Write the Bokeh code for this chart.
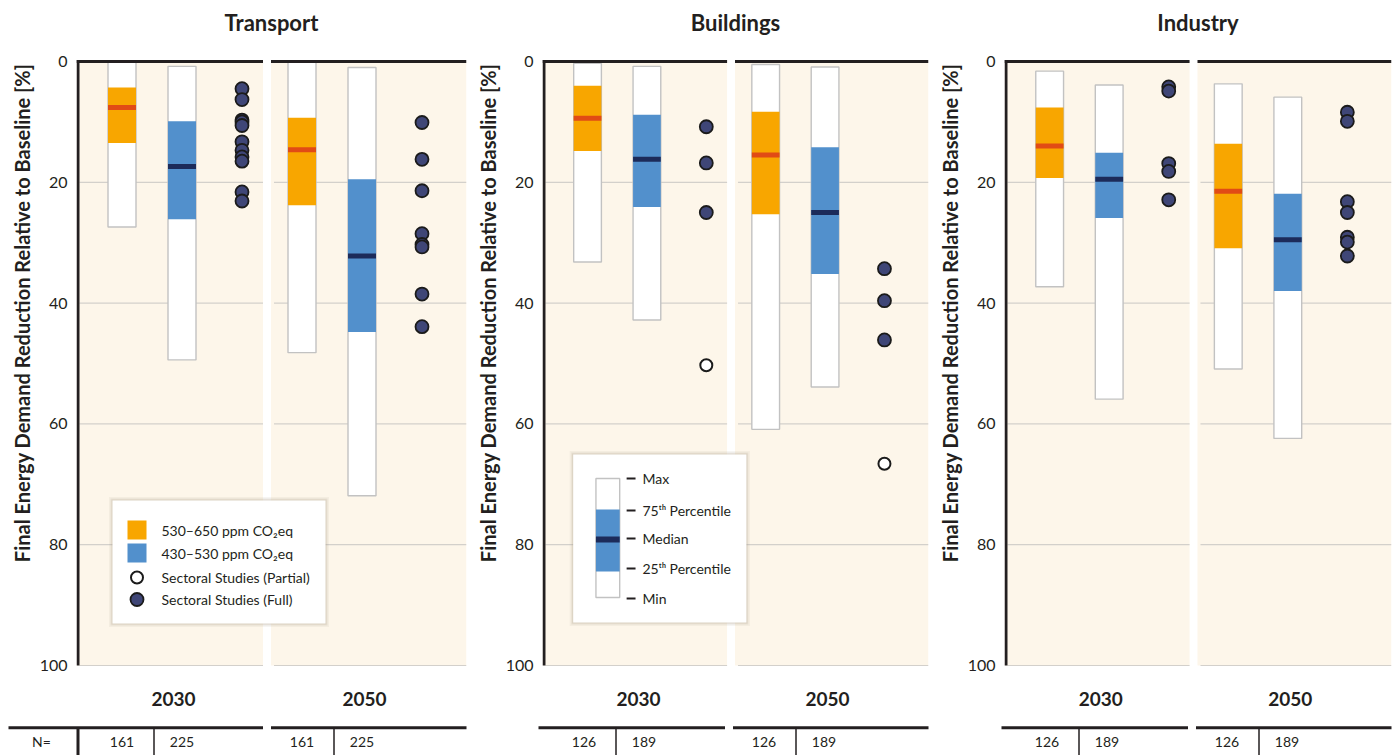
from bokeh.plotting import figure
from bokeh.models import Range1d, FixedTicker, Title
from bokeh.layouts import row, column
from bokeh.embed import file_html
from bokeh.resources import INLINE
from bokeh.core.properties import value

# ---------------- data ----------------
sectors = ["Transport", "Buildings", "Industry"]
years = ["2030", "2050"]
scenario_labels = ["530–650 ppm CO₂eq", "430–530 ppm CO₂eq"]
study_labels = ["Sectoral Studies (Partial)", "Sectoral Studies (Full)"]
key_labels = ["Max", "75ᵗʰ Percentile", "Median", "25ᵗʰ Percentile", "Min"]
y_ticks = [0, 20, 40, 60, 80, 100]
y_title = "Final Energy Demand Reduction Relative to Baseline [%]"

# N per scenario (530–650, 430–530)
n_transport = [161, 225]
n_buildings = [126, 189]
n_industry = [126, 189]

# box order: 2030 530–650, 2030 430–530, 2050 530–650, 2050 430–530
transport_max = [0.0, 0.8, 0.0, 1.0]
transport_p75 = [4.3, 9.9, 9.3, 19.5]
transport_median = [7.6, 17.4, 14.6, 32.2]
transport_p25 = [13.5, 26.1, 23.8, 44.8]
transport_min = [27.4, 49.4, 48.2, 71.9]

buildings_max = [0.3, 0.8, 0.5, 0.9]
buildings_p75 = [4.0, 8.8, 8.3, 14.2]
buildings_median = [9.4, 16.2, 15.5, 25.0]
buildings_p25 = [14.8, 24.1, 25.3, 35.2]
buildings_min = [33.2, 42.8, 60.9, 53.9]

industry_max = [1.6, 3.9, 3.7, 5.9]
industry_p75 = [7.6, 15.1, 13.6, 21.9]
industry_median = [14.0, 19.5, 21.5, 29.5]
industry_p25 = [19.3, 25.9, 30.9, 38.0]
industry_min = [37.3, 55.9, 50.9, 62.4]

# sectoral studies (full / partial) per year
transport_full_2030 = [4.5, 6.3, 9.7, 10.0, 10.6, 13.3, 14.7, 15.8, 16.5, 21.6, 23.1]
transport_full_2050 = [10.1, 16.2, 21.4, 28.5, 30.3, 30.7, 38.5, 43.9]
transport_partial_2030 = []
transport_partial_2050 = []
buildings_full_2030 = [10.8, 16.8, 25.0]
buildings_full_2050 = [34.3, 39.6, 46.1]
buildings_partial_2030 = [50.3]
buildings_partial_2050 = [66.6]
industry_full_2030 = [4.2, 4.9, 16.9, 18.2, 22.9]
industry_full_2050 = [8.4, 9.9, 23.2, 25.0, 29.1, 29.9, 32.2]
industry_partial_2030 = []
industry_partial_2050 = []

# ---------------- style / layout ----------------
FONT = "Lato"
TXT = "#231f20"
CREAM = "#fdf6ea"
ORANGE = "#f8a600"
BLUE = "#5290cc"
ORANGE_MED = "#e14b15"
BLUE_MED = "#1c2b5a"
DOT = "#3f4677"
GRID = "#d3d0cb"
BOX_LINE = "#c2c2c2"

PX = 6.04                    # pixels per percent
MAIN_H = 715
TOP_PAD = 61
Y_TOP = -TOP_PAD / PX
Y_BOT = (MAIN_H - TOP_PAD) / PX
FRAME_W = 390
FIG_W = [470, 462, 465]
LEFT_B = [76, 68, 69]
RIGHT_B = [4, 4, 6]
SUBS = [(0.0, 186.5), (194.5, 390.0)]
BOX_X = [45.5, 105.5, 225.5, 285.5]
DOT_X = [165.5, 345.5]
YEAR_X = [97, 288]
SEP_X = [77.5, 257.5]
BAR_W = 28
BOX_COL = [ORANGE, BLUE, ORANGE, BLUE]
MED_COL = [ORANGE_MED, BLUE_MED, ORANGE_MED, BLUE_MED]


def pct(page_y):
    return (page_y - TOP_PAD) / PX


def make_sector(i, name, bmax, b75, bmed, b25, bmin, full, partial):
    p = figure(width=FIG_W[i], height=MAIN_H,
               x_range=Range1d(0, FRAME_W), y_range=Range1d(Y_BOT, Y_TOP),
               output_backend="svg", toolbar_location=None, x_axis_location=None,
               min_border_left=LEFT_B[i], min_border_right=RIGHT_B[i],
               min_border_top=0, min_border_bottom=0,
               outline_line_color=None, background_fill_color="white",
               border_fill_color="white")
    p.xgrid.visible = False
    p.ygrid.visible = False
    ax = p.yaxis[0]
    ax.ticker = FixedTicker(ticks=y_ticks)
    ax.axis_line_color = None
    ax.major_tick_line_color = None
    ax.minor_tick_line_color = None
    ax.major_tick_out = 0
    ax.major_label_standoff = 9
    ax.major_label_text_font = FONT
    ax.major_label_text_font_size = "16px"
    ax.major_label_text_color = TXT

    p.add_layout(Title(text=y_title, align="right", offset=63, standoff=6,
                       text_font=FONT, text_font_size="20px", text_font_style="bold",
                       text_color=TXT), "left")

    # panel backgrounds
    p.quad(left=[s[0] for s in SUBS], right=[s[1] for s in SUBS],
           top=[0, 0], bottom=[100, 100], fill_color=CREAM, line_color=None)
    # grid lines
    gx0, gx1, gy = [], [], []
    for t in y_ticks[1:]:
        for s in SUBS:
            gx0.append(s[0] + 3); gx1.append(s[1]); gy.append(t)
    p.segment(x0=gx0, y0=gy, x1=gx1, y1=gy, line_color=GRID, line_width=1.2)

    # range boxes
    p.quad(left=[x - BAR_W / 2 for x in BOX_X], right=[x + BAR_W / 2 for x in BOX_X],
           top=bmax, bottom=bmin, fill_color="white", line_color=BOX_LINE, line_width=1.4)
    p.quad(left=[x - BAR_W / 2 for x in BOX_X], right=[x + BAR_W / 2 for x in BOX_X],
           top=b75, bottom=b25, fill_color=BOX_COL, line_color=None)
    p.segment(x0=[x - BAR_W / 2 for x in BOX_X], x1=[x + BAR_W / 2 for x in BOX_X],
              y0=bmed, y1=bmed, line_color=MED_COL, line_width=5)

    # studies
    for k in range(2):
        if full[k]:
            p.scatter(x=[DOT_X[k]] * len(full[k]), y=full[k], size=13,
                      fill_color=DOT, line_color="#1b1b1b", line_width=1.8)
        if partial[k]:
            p.scatter(x=[DOT_X[k]] * len(partial[k]), y=partial[k], size=12,
                      fill_color="white", line_color="#1b1b1b", line_width=2)

    # frame lines
    p.segment(x0=[s[0] for s in SUBS], x1=[s[1] for s in SUBS], y0=[0, 0], y1=[0, 0],
              line_color=TXT, line_width=3)
    p.segment(x0=[1.5], x1=[1.5], y0=[-0.25], y1=[100], line_color=TXT, line_width=3)

    # titles
    p.text(x=[FRAME_W / 2], y=[pct(22)], text=[name], text_font=value(FONT),
           text_font_style="bold", text_font_size="22px", text_align="center",
           text_baseline="alphabetic", text_color=TXT)
    p.text(x=YEAR_X, y=[pct(698)] * 2, text=years, text_font=value(FONT),
           text_font_style="bold", text_font_size="19px", text_align="center",
           text_baseline="middle", text_color=TXT)
    return p


def add_shadow_box(p, l, r, t, b):
    for d, a in [(3.5, 0.10), (2.0, 0.15), (1.0, 0.2)]:
        p.quad(left=[l - d], right=[r + d], top=[t - d / PX], bottom=[b + d / PX],
               fill_color="#a89a88", fill_alpha=a, line_color=None)
    p.quad(left=[l], right=[r], top=[t], bottom=[b], fill_color="white", line_color=None)


p1 = make_sector(0, sectors[0], transport_max, transport_p75, transport_median, transport_p25,
                 transport_min, [transport_full_2030, transport_full_2050],
                 [transport_partial_2030, transport_partial_2050])
p2 = make_sector(1, sectors[1], buildings_max, buildings_p75, buildings_median, buildings_p25,
                 buildings_min, [buildings_full_2030, buildings_full_2050],
                 [buildings_partial_2030, buildings_partial_2050])
p3 = make_sector(2, sectors[2], industry_max, industry_p75, industry_median, industry_p25,
                 industry_min, [industry_full_2030, industry_full_2050],
                 [industry_partial_2030, industry_partial_2050])

# legend (transport panel)
add_shadow_box(p1, 36, 249, pct(500), pct(623))
p1.quad(left=[51, 51], right=[70, 70], top=[pct(520), pct(543)], bottom=[pct(539), pct(562)],
        fill_color=[ORANGE, BLUE], line_color=None)
p1.scatter(x=[60.5], y=[pct(577)], size=12, fill_color="white", line_color="#1b1b1b", line_width=2)
p1.scatter(x=[60.5], y=[pct(599)], size=13, fill_color=DOT, line_color="#1b1b1b", line_width=1.8)
p1.text(x=[85] * 4, y=[pct(529.5), pct(552.5), pct(577), pct(599)],
        text=scenario_labels + study_labels, text_font=value(FONT), text_font_size="14px",
        text_baseline="middle", text_color=TXT)

# box key (buildings panel)
add_shadow_box(p2, 31, 206, pct(454), pct(622))
p2.quad(left=[54], right=[78], top=[pct(478)], bottom=[pct(597)], fill_color="white",
        line_color=BOX_LINE, line_width=1.4)
p2.quad(left=[54], right=[78], top=[pct(509)], bottom=[pct(571)], fill_color=BLUE, line_color=None)
p2.segment(x0=[54], x1=[78], y0=[pct(539)], y1=[pct(539)], line_color=BLUE_MED, line_width=6)
key_y = [pct(478), pct(510), pct(538), pct(568), pct(598)]
p2.segment(x0=[85] * 5, x1=[94] * 5, y0=key_y, y1=key_y, line_color=TXT, line_width=2)
p2.text(x=[101] * 5, y=key_y, text=key_labels, text_font=value(FONT), text_font_size="14px",
        text_baseline="middle", text_color=TXT)

# bottom N table (x in page pixels)
STRIP_W = sum(FIG_W)
STRIP_H = 40
strip = figure(width=STRIP_W, height=STRIP_H, x_range=Range1d(0, STRIP_W), y_range=Range1d(STRIP_H, 0),
               output_backend="svg", toolbar_location=None, x_axis_location=None,
               y_axis_location=None, min_border=0, outline_line_color=None,
               background_fill_color="white", border_fill_color="white")
strip.xgrid.visible = False
strip.ygrid.visible = False
n_all = [n_transport, n_buildings, n_industry]
frame_left = []
acc = 0
for i in range(3):
    frame_left.append(acc + LEFT_B[i])
    acc += FIG_W[i]
hx0, hx1, vx, nx, nt = [], [], [], [], []
for i in range(3):
    fl = frame_left[i]
    for j, s in enumerate(SUBS):
        hx0.append(8 if (i == 0 and j == 0) else fl + s[0])
        hx1.append(fl + s[1])
    vx += [fl + SEP_X[0], fl + SEP_X[1]]
    for j, bx in enumerate(BOX_X):
        nx.append(fl + bx)
        nt.append(str(n_all[i][j % 2]))
strip.segment(x0=hx0, x1=hx1, y0=[12.3] * len(hx0), y1=[12.3] * len(hx0), line_color=TXT, line_width=3)
strip.segment(x0=[frame_left[0] + 1.5], x1=[frame_left[0] + 1.5], y0=[12.3], y1=[STRIP_H],
              line_color=TXT, line_width=3)
strip.segment(x0=vx, x1=vx, y0=[12.3] * len(vx), y1=[STRIP_H] * len(vx), line_color=TXT, line_width=1.5)
strip.text(x=nx, y=[26] * len(nx), text=nt, text_font=value(FONT), text_font_size="14px",
           text_align="center", text_baseline="middle", text_color=TXT)
strip.text(x=[41], y=[26], text=["N="], text_font=value(FONT), text_font_size="14px",
           text_align="center", text_baseline="middle", text_color=TXT)

layout = column(row(p1, p2, p3), strip)
open("out.html", "w").write(file_html(layout, INLINE))
